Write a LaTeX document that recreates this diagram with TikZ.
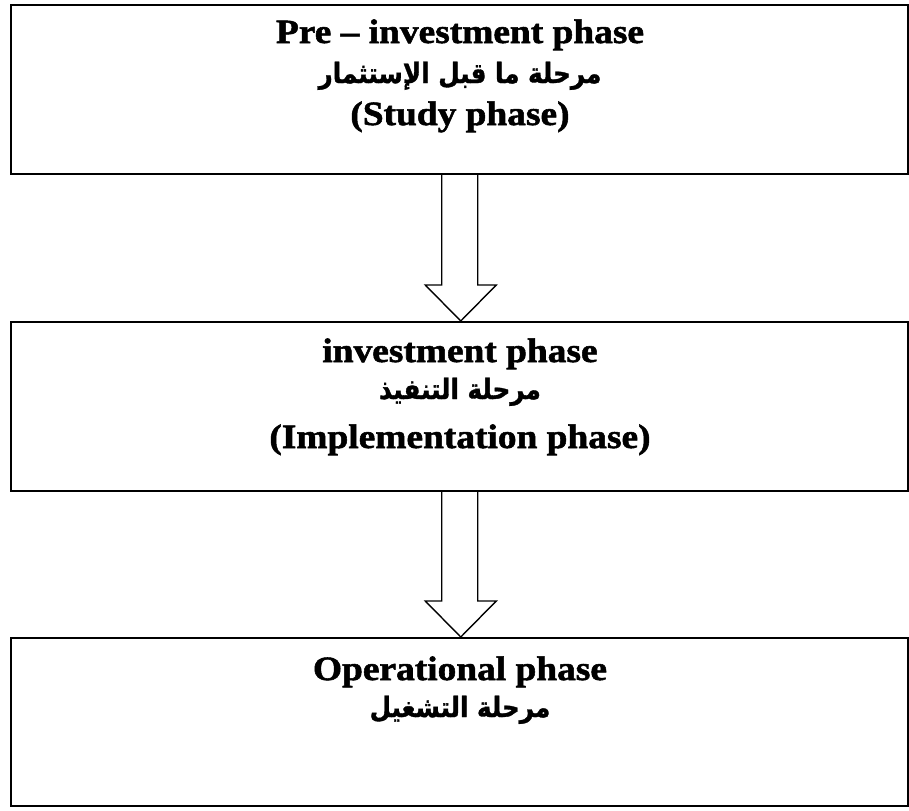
\documentclass[tikz,border=0pt]{standalone}
\usepackage{fontspec}
\setmainfont{Liberation Serif}[BoldFeatures={FakeBold=1.6,FakeStretch=1.1}]
\newfontfamily\arabicfont[Script=Arabic,FakeStretch=0.88,FakeBold=1.2]{DejaVu Sans}
\TeXXeTstate=1
\usetikzlibrary{calc}
\begin{document}
\begin{tikzpicture}[x=0.5pt,y=-0.5pt,
  phasebox/.style={draw=black,line width=1pt,fill=white,inner sep=0pt,
    minimum width=448.25pt},
  entitle/.style={anchor=base,inner sep=0pt,font=\bfseries\fontsize{17}{20}\selectfont},
  artitle/.style={anchor=base,inner sep=0pt,font=\arabicfont\bfseries\fontsize{14}{18}\selectfont},
  blockarrow/.style={draw=black,line width=0.7pt,fill=white,line join=miter}]
\useasboundingbox (0,0) rectangle (909,810);
\fill[white] (0,0) rectangle (909,810);

% the three phases
\node[phasebox,minimum height=84.5pt] (pre) at (459.25,89.5) {};
\node[phasebox,minimum height=84.5pt] (inv) at (459.25,406.5) {};
\node[phasebox,minimum height=84pt]   (op)  at (459.25,722) {};

% labels
\node[entitle] (preen) at (460,43) {Pre -- investment phase};
\node[artitle] (prear) at (460,83) {\beginR مرحلة ما قبل الإستثمار\endR};
\node[entitle] (prest) at (460,125) {(Study phase)};

\node[entitle] (inven) at (460,362) {investment phase};
\node[artitle] (invar) at (460,399) {\beginR مرحلة التنفيذ\endR};
\node[entitle] (invim) at (460,448) {(Implementation phase)};

\node[entitle] (open) at (460,680) {Operational phase};
\node[artitle] (opar) at (460,717) {\beginR مرحلة التشغيل\endR};

% hollow block arrows between consecutive phases
\foreach \a/\b in {pre/inv,inv/op}{
  \draw[blockarrow]
    ($(\a.south)+(-17.5,0)$) --
    ($(\b.north)+(-17.5,-36)$) --
    ($(\b.north)+(-34,-36)$) --
    ($(\b.north)+(1.5,0)$) --
    ($(\b.north)+(37,-36)$) --
    ($(\b.north)+(18.5,-36)$) --
    ($(\a.south)+(18.5,0)$);
}
\end{tikzpicture}
\end{document}
